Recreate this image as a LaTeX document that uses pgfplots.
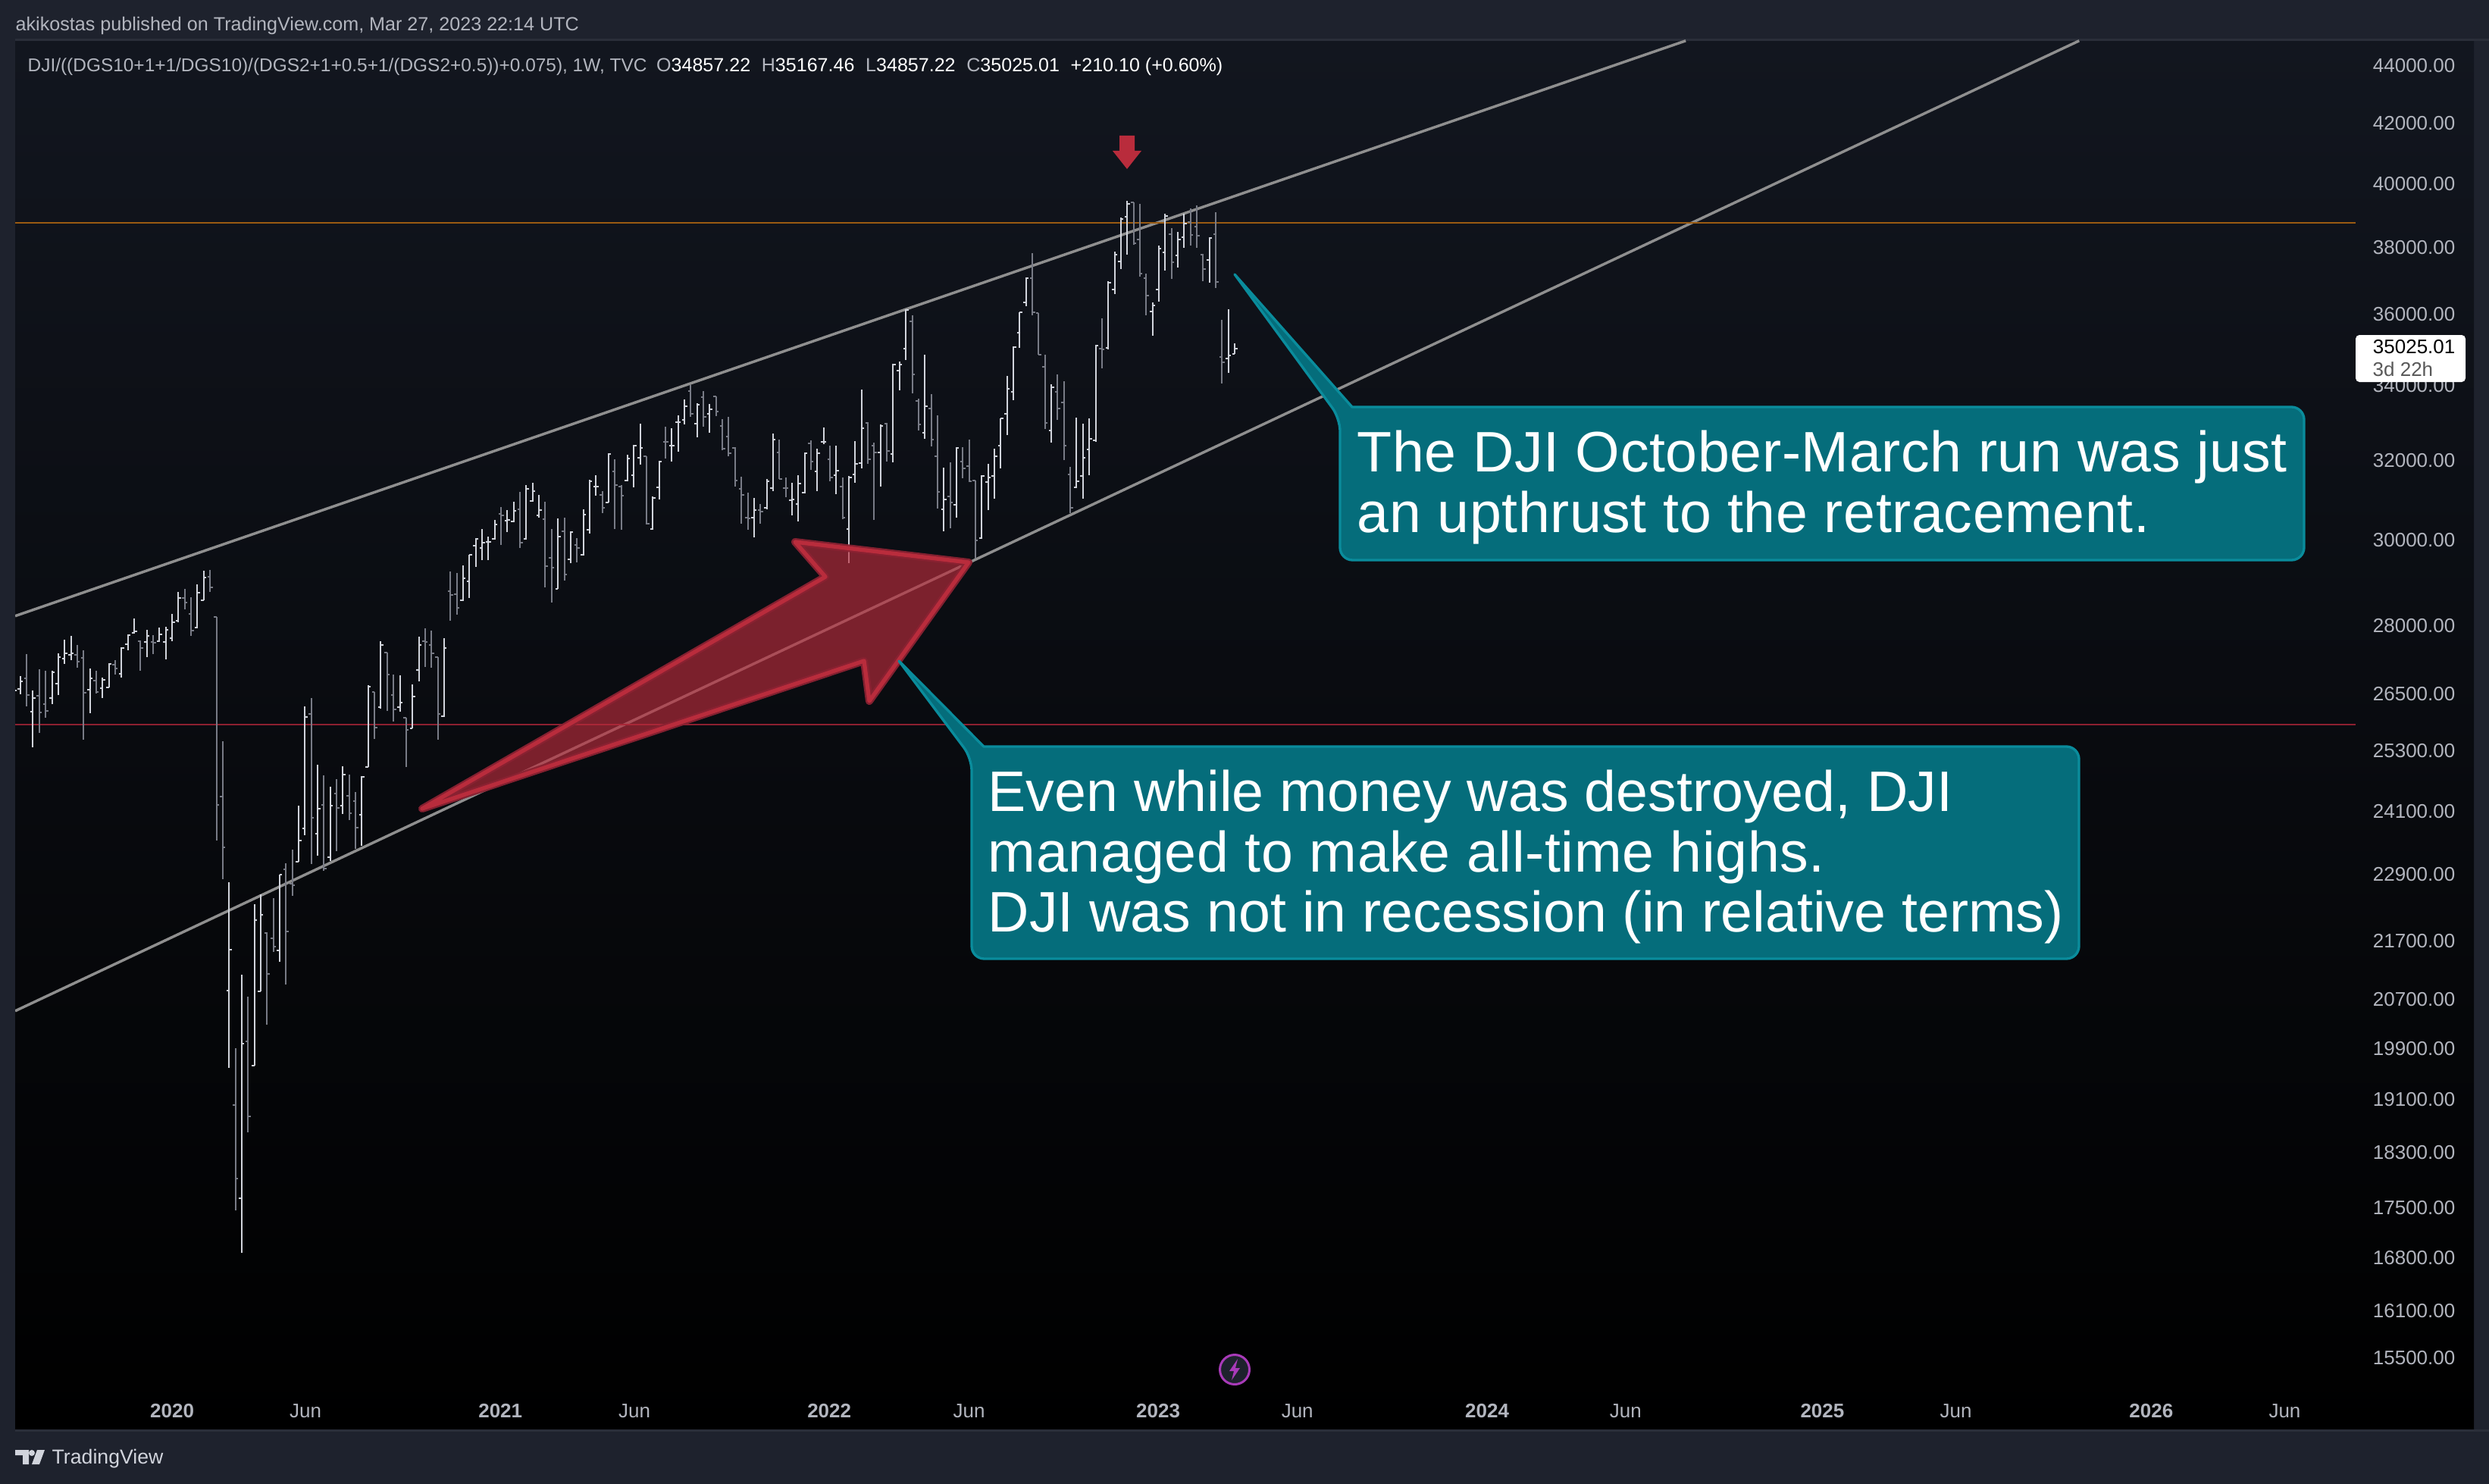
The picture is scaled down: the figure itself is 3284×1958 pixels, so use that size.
\documentclass[border=0pt]{standalone}
\usepackage{fontspec}
\setmainfont{Liberation Sans}
\usepackage{pgfplots}
\usepackage{pgfplotstable}
\pgfplotsset{compat=1.18}
\definecolor{outerbg}{HTML}{1E222D}
\definecolor{panelborder}{HTML}{2A2E39}
\definecolor{paneltop}{HTML}{12161F}
\definecolor{txt}{HTML}{B2B5BE}
\definecolor{upc}{HTML}{D1D4DC}
\definecolor{dnc}{HTML}{787B86}
\definecolor{trend}{HTML}{8F8F8F}
\definecolor{orangeline}{HTML}{9A5B12}
\definecolor{redline}{HTML}{8C2030}
\definecolor{tealfill}{HTML}{056D7B}
\definecolor{tealedge}{HTML}{0A8C9C}
\definecolor{redfill}{HTML}{B92C3C}
\definecolor{reddark}{HTML}{8A2232}
\definecolor{purp}{HTML}{A83AB8}
\pgfplotstableread{
i o h l c
-1 26510 26670 26350 26575
0 26607 26887 26494 26769
2 26125 26575 25384 26414
5 26414 27003 26285 26970
6 26720 27385 26478 27302
7 27268 27687 27152 27385
8 27352 27772 27235 27385
11 26591 27053 26092 26837
13 26623 26852 26414 26802
14 26639 27169 26639 27152
16 26937 27518 26852 27501
17 27584 27806 27451 27789
18 27840 28167 27823 27875
20 27635 27909 27302 27772
22 27652 27962 27635 27806
23 27635 27977 27252 27909
24 27721 28270 27652 28082
25 28116 28776 28082 28636
28 27962 28953 27943 28759
29 28583 29272 28583 29113
33 20855 22762 19593 21554
35 17636 21125 16872 19983
37 19629 22361 19629 22076
38 20842 22542 20842 22170
41 21541 22901 21346 22901
44 23141 24214 23141 23541
45 23773 26237 23641 26010
47 23670 25027 23255 24155
49 23228 24587 23155 24214
51 24214 24997 24052 24830
54 24037 24799 23441 24784
55 24982 26688 24982 26655
57 26221 27652 26189 27567
60 26221 26903 26125 26317
62 25774 26704 25774 26446
63 27019 27755 26769 27567
67 26027 27721 26010 27501
70 28583 29398 28565 29095
71 29024 29653 28636 29653
72 29872 30054 29361 30036
73 29817 30274 29525 29945
74 29963 30090 29525 29963
75 30036 30499 30018 30386
77 30480 30743 30200 30499
78 30462 30950 30443 30724
80 30036 31369 30018 31272
81 30968 31427 30950 31214
82 30612 31119 30556 30743
85 28847 30537 28847 30090
87 29544 30218 29452 30200
89 29653 30761 29635 30630
90 30255 31505 30163 31466
91 31330 31620 31100 31330
93 30931 32184 30931 32164
96 31485 32144 31466 32047
97 31620 32403 31311 32383
98 32066 32963 31892 32323
100 30274 31081 30255 31043
101 31311 31989 31006 31970
103 32383 32843 31970 32383
104 33003 33184 32224 33003
105 33063 33617 32943 33431
107 32963 33514 32603 33472
109 33225 33493 32723 33349
116 30556 31043 30072 30743
118 30799 31524 30761 31466
119 31291 32703 31214 32544
122 30987 31427 30612 31006
123 30893 31620 30462 31408
124 31175 32204 31156 32184
126 31717 32304 31214 32184
127 32483 32863 32423 32483
129 31620 32383 31137 31737
131 30274 31601 29452 31563
132 31640 32503 31427 31911
133 31931 33885 31795 32843
136 32204 32943 31330 32903
138 32164 34598 31950 34576
139 34406 34662 33864 34576
140 35023 36155 34705 36133
143 32723 34853 32564 33431
146 30761 31814 30218 31006
148 30875 32344 30556 32323
152 30054 31620 30036 31601
153 31446 31911 30743 31563
154 31601 32304 31025 32105
155 32383 33103 31795 33103
156 33225 34258 32663 33905
157 33823 35087 33596 35065
158 35471 36067 35044 36067
159 36352 37097 36242 37075
163 32783 34029 32463 33946
167 31311 33123 31291 31466
168 31601 32963 31025 32066
169 32284 33103 31620 32564
170 32524 35129 32483 35108
172 35044 36984 35002 36939
173 36737 37879 36601 37785
174 37576 38936 37346 38888
175 38960 39456 37785 39360
179 36089 36352 35388 36264
180 36737 38064 36375 37971
181 37855 39056 37300 38984
183 37762 38483 37391 38250
184 38320 39056 37995 38743
188 37622 38320 36940 38297
191 34747 36155 34340 34832
192 34857 35167 34857 35025
}\upbars
\pgfplotstableread{
i o h l c
1 26837 27368 26237 26478
3 26462 27036 25681 26108
4 26285 27003 25994 26140
9 27352 27567 27069 27202
10 27285 27451 25540 26527
12 26785 27003 26510 26543
15 27136 27235 26920 27053
19 27652 27670 27003 27501
21 27635 27789 27368 27618
26 28636 28847 28373 28530
27 28270 28653 27772 27892
30 29131 29290 28776 28883
31 28202 28202 23541 24229
32 24390 25509 22818 23413
34 19014 19909 17463 17917
36 20007 20754 18600 18842
39 21848 21861 20288 21138
40 21754 22472 21515 21606
42 23000 23113 20956 21875
43 22735 23370 22514 22707
46 26075 26414 23098 23979
48 24229 24814 22971 23013
50 24451 24738 23341 24170
52 24405 24830 23935 24067
53 24302 24481 23384 23788
56 26543 26543 25556 25790
58 27401 27401 26140 26920
59 26478 26920 25915 26172
61 25994 25994 24982 25743
64 27652 27943 27086 27635
65 27567 27892 27069 27385
66 27302 27302 25540 26075
68 28794 29254 28116 28706
69 28724 29219 28253 28407
76 30649 30818 29890 30612
79 30761 31194 29817 29945
83 30518 30950 28882 29380
84 29580 30274 28530 29343
86 30218 30556 29042 29183
88 29890 30054 29470 29817
92 31119 31214 30668 30799
94 31717 32028 30274 31369
95 31330 31369 30255 31100
99 32105 32105 30386 30405
102 32483 32883 32047 32470
106 33843 34008 33143 33225
108 33678 33843 32883 33143
110 33699 33699 33164 33287
111 32903 33083 32264 32304
112 32623 33143 32105 32184
113 32323 32344 31330 31485
114 31272 31582 30405 31119
115 30556 31175 30255 30537
117 30743 30893 30405 30705
120 32204 32544 31524 31524
121 31291 31563 31062 31280
125 32443 32524 31756 31970
128 32028 32383 31466 31563
130 31330 31563 30518 30556
134 32983 33003 31911 32028
135 32383 32463 30499 32204
137 32963 32983 31970 32244
141 35804 35980 33782 34300
142 33576 33637 32783 32943
144 33370 33761 32363 32544
145 32105 33184 30780 31194
147 31081 31950 30292 30931
149 31970 32344 31544 31795
150 31853 32544 31446 31466
151 31485 31485 29562 29999
160 37075 37832 35980 36067
161 36045 36045 34853 34853
162 34512 34853 32823 32983
164 33823 34300 33063 33370
165 33535 34111 32008 32383
166 31640 31834 30668 30799
171 35023 35892 34470 35002
176 39408 39408 38087 38133
177 38250 39360 37120 37210
178 37075 37210 35980 36556
182 38413 38600 37052 37552
185 38791 39216 38064 38390
186 38647 39312 37995 38367
187 37785 37808 36985 37346
189 38413 39104 36782 36962
190 34790 35848 34049 34640
}\dnbars
\begin{document}
\begin{tikzpicture}[x=0.3pt,y=-0.3pt]
\path[use as bounding box] (0,0) rectangle (3284,1958);
\fill[outerbg] (0,0) rectangle (3284,1958);
\shade[top color=paneltop,bottom color=black] (20,53) rectangle (3264,1887);
\draw[panelborder,line width=0.9pt] (20,53) -- (3284,53);
\draw[panelborder,line width=0.9pt] (20,1887) -- (3284,1887);
\begin{axis}[
  at={(6pt,-566.1pt)},anchor=south west,
  width=973.2pt,height=550.2pt,scale only axis,
  ymode=log,
  xmin=-0.815,xmax=387.9,ymin=14623,ymax=44925,
  axis line style={draw=none},
  tick style={draw=none},major tick length=0pt,
  yminorticks=false,xminorticks=false,
  ytick={44000,42000,40000,38000,36000,34000,32000,30000,28000,26500,25300,24100,22900,21700,20700,19900,19100,18300,17500,16800,16100,15500},
  yticklabels={44000.00,42000.00,40000.00,38000.00,36000.00,34000.00,32000.00,30000.00,28000.00,26500.00,25300.00,24100.00,22900.00,21700.00,20700.00,19900.00,19100.00,18300.00,17500.00,16800.00,16100.00,15500.00},
  yticklabel pos=right,
  y tick label style={anchor=east,xshift=-7.2pt,inner xsep=0pt,font=\fontsize{7.8}{9}\selectfont,text=txt},
  xtick={24,45.1,75.9,97.1,127.9,150,179.9,201.9,231.9,253.8,284.9,306,336.9,358},
  xticklabels={\textbf{2020},Jun,\textbf{2021},Jun,\textbf{2022},Jun,\textbf{2023},Jun,\textbf{2024},Jun,\textbf{2025},Jun,\textbf{2026},Jun},
  x tick label style={anchor=center,yshift=7.5pt,font=\fontsize{7.8}{9}\selectfont,text=txt},
]
\addplot[forget plot,trend,line width=1.05pt] coordinates {(-0.815,28217) (263.3,44898)};
\addplot[forget plot,trend,line width=1.05pt] coordinates {(-0.815,20511) (325.5,44898)};
\addplot[forget plot,orangeline,line width=0.55pt] coordinates {(-0.815,38764) (369.2,38764)};
\addplot[forget plot,redline,line width=0.55pt] coordinates {(-0.815,25850) (369.2,25850)};
\addplot[forget plot,draw=none,mark=none,error bars/.cd,y dir=both,y explicit,error mark=none,error bar style={draw=dnc,line width=0.6pt}] table[x=i,y=c,y error plus expr=\thisrow{h}-\thisrow{c},y error minus expr=\thisrow{c}-\thisrow{l}] {\dnbars};
\addplot[forget plot,draw=none,mark=none,error bars/.cd,x dir=minus,x fixed=0.42,error mark=none,error bar style={draw=dnc,line width=0.6pt}] table[x=i,y=o] {\dnbars};
\addplot[forget plot,draw=none,mark=none,error bars/.cd,x dir=plus,x fixed=0.42,error mark=none,error bar style={draw=dnc,line width=0.6pt}] table[x=i,y=c] {\dnbars};
\addplot[forget plot,draw=none,mark=none,error bars/.cd,y dir=both,y explicit,error mark=none,error bar style={draw=upc,line width=0.6pt}] table[x=i,y=c,y error plus expr=\thisrow{h}-\thisrow{c},y error minus expr=\thisrow{c}-\thisrow{l}] {\upbars};
\addplot[forget plot,draw=none,mark=none,error bars/.cd,x dir=minus,x fixed=0.42,error mark=none,error bar style={draw=upc,line width=0.6pt}] table[x=i,y=o] {\upbars};
\addplot[forget plot,draw=none,mark=none,error bars/.cd,x dir=plus,x fixed=0.42,error mark=none,error bar style={draw=upc,line width=0.6pt}] table[x=i,y=c] {\upbars};
\end{axis}
% big red arrow
\fill[redfill,fill opacity=0.65] (557,1067) -- (1089,761) -- (1049,715) -- (1278,742) -- (1147,925) -- (1140,872) -- cycle;
\draw[reddark,line width=3pt,line join=round,opacity=0.95] (557,1067) -- (1089,761) -- (1049,715) -- (1278,742) -- (1147,925) -- (1140,872) -- cycle;
\draw[redfill,line width=1.6pt,line join=round] (557,1067) -- (1089,761) -- (1049,715) -- (1278,742) -- (1147,925) -- (1140,872) -- cycle;
% small red arrow
\fill[redfill] (1477,179) -- (1497,179) -- (1497,199) -- (1506,199) -- (1487,223) -- (1468,199) -- (1477,199) -- cycle;
% callouts
\draw[tealedge,fill=tealfill,line width=1pt,line join=round] (1784,537) [rounded corners=5pt] -- (3040,537) -- (3040,739) -- (1768,739) -- (1768,552) [sharp corners] -- (1629,362) -- cycle;
\draw[tealedge,fill=tealfill,line width=1pt,line join=round] (1298,985) [rounded corners=5pt] -- (2743,985) -- (2743,1265) -- (1282,1265) -- (1282,1000) [sharp corners] -- (1186,872) -- cycle;
\begin{scope}[every node/.style={anchor=base west,inner sep=0pt,text=white,font=\fontsize{22.6}{24}\selectfont}]
\node at (1790,622) {\addfontfeature{LetterSpace=0.8}The DJI October-March run was just};
\node at (1790,702) {\addfontfeature{LetterSpace=0.8}an upthrust to the retracement.};
\node at (1303,1070) {Even while money was destroyed, DJI};
\node at (1303,1150) {\addfontfeature{LetterSpace=0.8}managed to make all-time highs.};
\node at (1303,1229) {DJI was not in recession (in relative terms)};
\end{scope}
% last price label
\fill[white,rounded corners=1.5pt] (3108,442) rectangle (3253,504);
\node[anchor=east,inner sep=0pt,font=\fontsize{7.8}{9}\selectfont,text=black] at (3240,458) {35025.01};
\node[anchor=west,inner sep=0pt,font=\fontsize{7.8}{9}\selectfont,text=black!65] at (3130,487) {3d 22h};
% header/footer text
\node[anchor=west,inner sep=0pt,font=\fontsize{7.54}{9}\selectfont,text=txt] at (20,34) {akikostas published on TradingView.com, Mar 27, 2023 22:14 UTC};
\node[anchor=west,inner sep=0pt,font=\fontsize{7.33}{9}\selectfont,text=txt] at (36,88) {DJI/((DGS10+1+1/DGS10)/(DGS2+1+0.5+1/(DGS2+0.5))+0.075), 1W, TVC\hspace{3.8pt}\fontsize{7.52}{9}\selectfont O\textcolor{white}{34857.22}\hspace{4.4pt}H\textcolor{white}{35167.46}\hspace{4.4pt}L\textcolor{white}{34857.22}\hspace{4.4pt}C\textcolor{white}{35025.01}\hspace{4.4pt}\textcolor{white}{+210.10 (+0.60\%)}};
\node[anchor=west,inner sep=0pt,font=\fontsize{8}{9}\selectfont,text=upc] at (68,1925) {TradingView};
\fill[upc] (20,1913) -- (38,1913) -- (38,1932) -- (30,1932) -- (30,1920) -- (20,1920) -- cycle;
\fill[upc] (42,1917) circle[radius=4];
\fill[upc] (49,1913) -- (59,1913) -- (52,1932) -- (42,1932) -- cycle;
% lightning icon
\draw[purp,fill=outerbg,line width=0.9pt] (1629,1807) circle[radius=19.5];
\fill[purp] (1633,1793) -- (1622,1809) -- (1628,1809) -- (1625,1821) -- (1636,1805) -- (1630,1805) -- cycle;
\end{tikzpicture}
\end{document}
